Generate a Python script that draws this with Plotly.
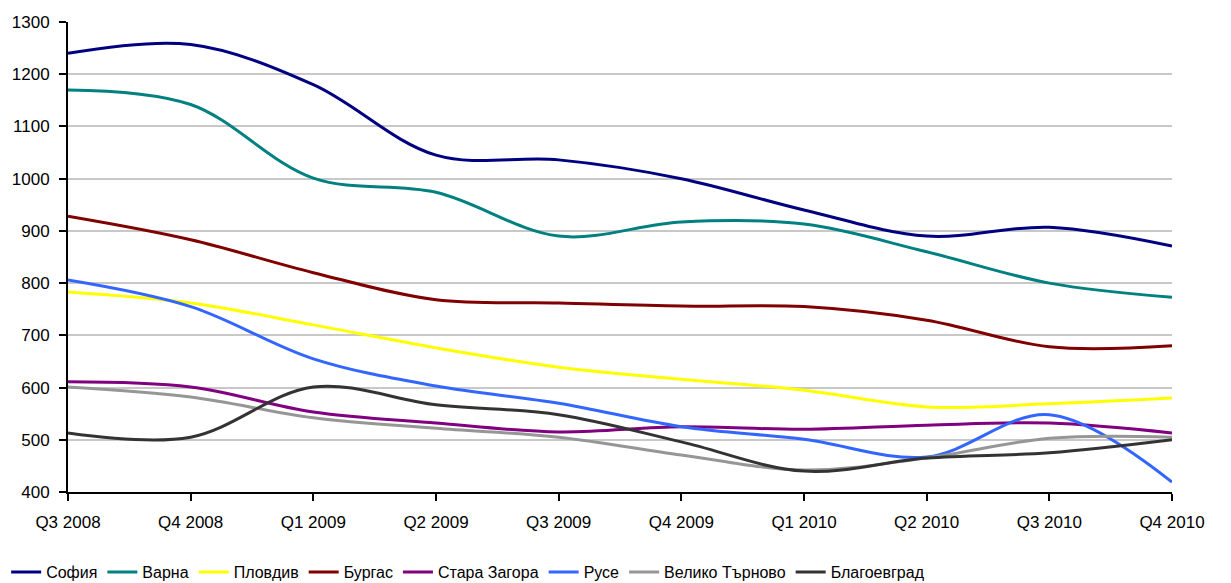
import plotly.graph_objects as go

quarters = ["Q3 2008", "Q4 2008", "Q1 2009", "Q2 2009", "Q3 2009",
            "Q4 2009", "Q1 2010", "Q2 2010", "Q3 2010", "Q4 2010"]

sofia = [1240, 1257, 1180, 1045, 1036, 1000, 940, 890, 907, 871]
varna = [1170, 1142, 1001, 974, 890, 917, 913, 860, 800, 773]
plovdiv = [783, 762, 720, 676, 639, 616, 595, 563, 569, 580]
burgas = [928, 883, 820, 768, 762, 756, 755, 729, 678, 680]
stara_zagora = [611, 601, 553, 532, 515, 525, 520, 528, 532, 513]
ruse = [806, 755, 655, 603, 570, 525, 501, 467, 548, 419]
veliko_tarnovo = [601, 582, 542, 522, 505, 471, 442, 465, 503, 505]
blagoevgrad = [513, 505, 601, 567, 548, 496, 440, 465, 475, 500]

series = [
    ("София", sofia, "#000080"),
    ("Варна", varna, "#008080"),
    ("Пловдив", plovdiv, "#FFFF00"),
    ("Бургас", burgas, "#800000"),
    ("Стара Загора", stara_zagora, "#800080"),
    ("Русе", ruse, "#3366FF"),
    ("Велико Търново", veliko_tarnovo, "#969696"),
    ("Благоевград", blagoevgrad, "#333333"),
]

fig = go.Figure()
for name, vals, color in series:
    fig.add_trace(go.Scatter(
        x=quarters, y=vals, name=name, mode="lines",
        line=dict(color=color, width=3, shape="spline", smoothing=1),
    ))

font = dict(family="Liberation Sans, Arial, sans-serif", size=17, color="#000000")

fig.update_layout(
    width=1231, height=583,
    margin=dict(l=68, r=59, t=22, b=91, autoexpand=False),
    paper_bgcolor="#FFFFFF", plot_bgcolor="#FFFFFF",
    font=font,
    showlegend=True,
    legend=dict(
        orientation="h", xref="container", yref="container",
        x=0.005, xanchor="left", y=0.048, yanchor="top",
        font=dict(family="Liberation Sans, Arial, sans-serif", size=16, color="#000000"),
        itemwidth=30, tracegroupgap=0,
    ),
    xaxis=dict(
        type="category", range=[0, 9], automargin=False,
        showgrid=False, zeroline=False,
        showline=True, linecolor="#000000", linewidth=2,
        ticks="outside", ticklen=7, tickwidth=1.5, tickcolor="#000000",
        tickfont=font, ticklabelstandoff=7,
    ),
    yaxis=dict(
        range=[400, 1300], dtick=100, tick0=400, automargin=False,
        showgrid=True, gridcolor="#C8C8C8", gridwidth=1.5,
        zeroline=False,
        showline=True, linecolor="#000000", linewidth=2,
        ticks="outside", ticklen=7, tickwidth=1.5, tickcolor="#000000",
        tickfont=font, ticklabelstandoff=6,
    ),
)

fig.write_html("out.html")
